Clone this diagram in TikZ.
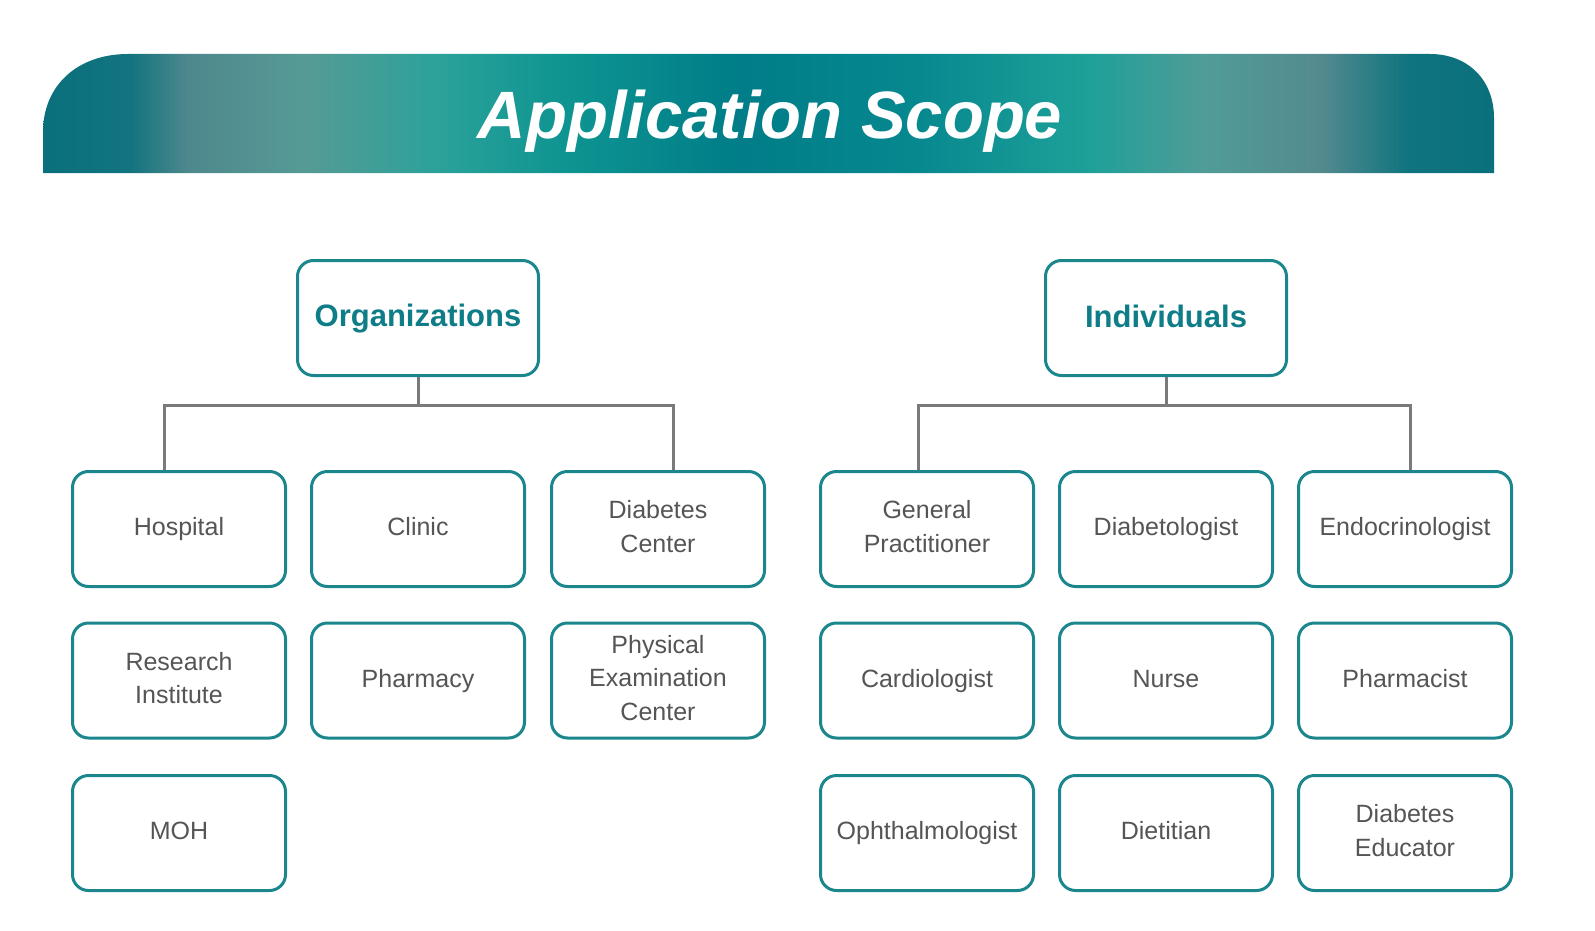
\documentclass[tikz,border=0pt]{standalone}
\usepackage{fontspec}
\setmainfont{Liberation Sans}
\usepackage{tikz}
\usetikzlibrary{positioning, calc}
\definecolor{tealframe}{RGB}{27,134,140}
\definecolor{tealhead}{RGB}{14,125,135}
\definecolor{boxtext}{RGB}{85,85,85}
\definecolor{busgray}{RGB}{122,122,122}
\definecolor{bandA}{RGB}{10,112,124}
\definecolor{bandB}{RGB}{18,116,127}
\definecolor{bandC}{RGB}{78,136,141}
\definecolor{bandD}{RGB}{86,154,149}
\definecolor{bandE}{RGB}{44,162,154}
\definecolor{bandF}{RGB}{14,148,145}
\definecolor{bandG}{RGB}{0,125,136}
\definecolor{bandH}{RGB}{6,136,143}
\definecolor{bandI}{RGB}{30,160,153}
\definecolor{bandJ}{RGB}{80,156,152}
\definecolor{bandK}{RGB}{84,138,142}
\definecolor{bandL}{RGB}{16,116,127}
\pgfdeclarehorizontalshading{bandshade}{100bp}{color(0bp)=(bandA); color(25bp)=(bandA);
  color(28bp)=(bandB); color(30bp)=(bandC); color(34bp)=(bandD); color(38.5bp)=(bandE);
  color(43bp)=(bandF); color(49bp)=(bandG); color(55bp)=(bandH); color(61bp)=(bandI);
  color(65bp)=(bandJ); color(69bp)=(bandK); color(72bp)=(bandL); color(75bp)=(bandA);
  color(100bp)=(bandA)}
\tikzset{
  tbox/.style={rectangle, draw=tealframe, fill=white, line width=3pt,
    minimum width=213pt, minimum height=115pt, rounded corners=16pt,
    align=center, text=boxtext, font=\fontsize{25}{33.5}\selectfont,
    execute at begin node={\rule{0pt}{19pt}},
    execute at end node={\rule[-5.5pt]{0pt}{5.5pt}}},
  head/.style={tbox, minimum width=241pt, text=tealhead,
    font=\fontsize{31}{38}\selectfont\bfseries,
    execute at begin node={\rule{0pt}{24.5pt}},
    execute at end node={\rule[-6.5pt]{0pt}{6.5pt}}},
  title/.style={text=white, font=\fontsize{67}{70}\selectfont\bfseries\itshape},
  line/.style={line width=3pt, color=busgray}
}

\begin{document}
\begin{tikzpicture}[x=1pt, y=-1pt]
  \useasboundingbox (0,0) rectangle (1595,931);

  % banner
  \shade[shading=bandshade] (43,173) -- (43,132) .. controls (43,85) and (78,54) .. (128,54)
    -- (1430,54) .. controls (1468,54) and (1494,80) .. (1494,118) -- (1494,173) -- cycle;
  \node[title] (apptitle) at (770,121) {Application Scope};

  % heads
  \node[head] (org) at (418,318) {Organizations};
  \node[head] (ind) at (1166,318) {Individuals};

  % organizations
  \node[tbox] (hosp) at (179,529) {Hospital};
  \node[tbox] (clinic) at (418,529) {Clinic};
  \node[tbox] (dcenter) at (658,529) {Diabetes\\Center};
  \node[tbox] (research) at (179,680.5) {Research\\Institute};
  \node[tbox] (pharmacy) at (418,680.5) {Pharmacy};
  \node[tbox] (physexam) at (658,680.5) {Physical\\Examination\\Center};
  \node[tbox] (moh) at (179,833) {MOH};

  % individuals
  \node[tbox] (gp) at (927,529) {General\\Practitioner};
  \node[tbox] (diabetologist) at (1166,529) {Diabetologist};
  \node[tbox] (endo) at (1405,529) {Endocrinologist};
  \node[tbox] (cardio) at (927,680.5) {Cardiologist};
  \node[tbox] (nurse) at (1166,680.5) {Nurse};
  \node[tbox] (pharmacist) at (1405,680.5) {Pharmacist};
  \node[tbox] (ophth) at (927,833) {Ophthalmologist};
  \node[tbox] (dietitian) at (1166,833) {Dietitian};
  \node[tbox] (educator) at (1405,833) {Diabetes\\Educator};

  % connectors
  \coordinate (orgbus) at (418,405);
  \coordinate (indbus) at (1166,405);
  \draw[line] (org.south) -- (orgbus);
  \draw[line] ([xshift=-15pt]hosp.north) -- ([xshift=-15pt]hosp.north |- orgbus)
    -- ([xshift=15pt]dcenter.north |- orgbus) -- ([xshift=15pt]dcenter.north);
  \draw[line] (ind.south) -- (indbus);
  \draw[line] ([xshift=-9pt]gp.north) -- ([xshift=-9pt]gp.north |- indbus)
    -- ([xshift=5pt]endo.north |- indbus) -- ([xshift=5pt]endo.north);
\end{tikzpicture}
\end{document}
